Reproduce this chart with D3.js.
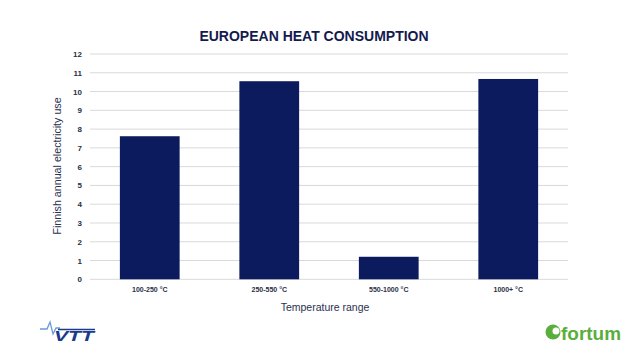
<!DOCTYPE html>
<html><head><meta charset="utf-8">
<script src="https://cdn.jsdelivr.net/npm/d3@7"></script>
<style>body{margin:0;background:#fff}svg{display:block}</style>
</head><body><svg id="c" width="638" height="359"></svg>
<script>
const categories = ["100-250 °C", "250-550 °C", "550-1000 °C", "1000+ °C"];
const values = [7.62, 10.55, 1.2, 10.67];
const yTicks = [0,1,2,3,4,5,6,7,8,9,10,11,12];

const svg = d3.select("#c");
const m = {l:90, r:70, t:54, b:80};
const W = 638, H = 359;
const x = d3.scaleBand().domain(categories).range([m.l, W - m.r]).paddingInner(0.5).paddingOuter(0.25);
const y = d3.scaleLinear().domain([0, 12]).range([279.3, 54]);
const navy = "#0c1a5e";

// grid
svg.append("g").selectAll("line").data(yTicks).join("line")
  .attr("x1", m.l).attr("x2", W - m.r)
  .attr("y1", d => y(d)).attr("y2", d => y(d))
  .attr("stroke", "#d9d9d9").attr("stroke-width", 1);

// y axis labels
const ya = svg.append("g").attr("transform", `translate(${m.l},0)`)
  .call(d3.axisLeft(y).tickValues(yTicks).tickSize(0).tickPadding(8));
ya.select(".domain").remove();
ya.selectAll("text").attr("font-family", "Liberation Sans, Arial, sans-serif")
  .attr("font-size", 8).attr("font-weight", "bold").attr("fill", "#2a2f45");

// bars
svg.append("g").selectAll("rect").data(values).join("rect")
  .attr("x", (d,i) => x(categories[i])).attr("width", x.bandwidth())
  .attr("y", d => y(d)).attr("height", d => y(0) - y(d))
  .attr("fill", navy);

// x axis labels
const xa = svg.append("g").attr("transform", `translate(0,${y(0)})`)
  .call(d3.axisBottom(x).tickSize(0).tickPadding(8));
xa.select(".domain").remove();
xa.selectAll("text").attr("font-family", "Liberation Sans, Arial, sans-serif")
  .attr("font-size", 7).attr("font-weight", "bold").attr("fill", "#2a2f45");

// title
svg.append("text").attr("x", 314).attr("y", 41).attr("text-anchor", "middle")
  .attr("font-family", "Liberation Sans, Arial, sans-serif").attr("font-weight", "bold")
  .attr("font-size", 14).attr("fill", "#131a4e").text("EUROPEAN HEAT CONSUMPTION");

// axis titles
svg.append("text").attr("transform", "translate(61,166) rotate(-90)").attr("text-anchor", "middle")
  .attr("font-family", "Liberation Sans, Arial, sans-serif").attr("font-size", 10.7)
  .attr("fill", "#2a3050").text("Finnish annual electricity use");
svg.append("text").attr("x", 325).attr("y", 311).attr("text-anchor", "middle")
  .attr("font-family", "Liberation Sans, Arial, sans-serif").attr("font-size", 10.5)
  .attr("fill", "#2a3050").text("Temperature range");

// VTT logo
const vtt = svg.append("g");
vtt.append("path").attr("d", "M40,329 L47,329 L50,322 L53,334 L56,328 L60,328")
  .attr("fill", "none").attr("stroke", "#6a9ad8").attr("stroke-width", 1.3);
vtt.append("line").attr("x1", 58).attr("x2", 95).attr("y1", 329.5).attr("y2", 329.5)
  .attr("stroke", "#1a3a8c").attr("stroke-width", 1.5);
vtt.append("text").attr("x", 54).attr("y", 341).attr("font-family", "Liberation Sans, Arial, sans-serif")
  .attr("font-weight", "bold").attr("font-style", "italic").attr("font-size", 15)
  .attr("fill", "#1a3a8c").attr("textLength", 40).attr("lengthAdjust", "spacingAndGlyphs").text("VTT");

// fortum logo
const ft = svg.append("g");
ft.append("circle").attr("cx", 553).attr("cy", 332).attr("r", 7.5).attr("fill", "#5aae3c");
ft.append("circle").attr("cx", 556).attr("cy", 331).attr("r", 3.5).attr("fill", "#fff");
ft.append("text").attr("x", 561).attr("y", 340).attr("font-family", "Liberation Sans, Arial, sans-serif")
  .attr("font-weight", "bold").attr("font-size", 19).attr("fill", "#5aae3c")
  .attr("textLength", 60).attr("lengthAdjust", "spacingAndGlyphs").text("fortum");
</script></body></html>
